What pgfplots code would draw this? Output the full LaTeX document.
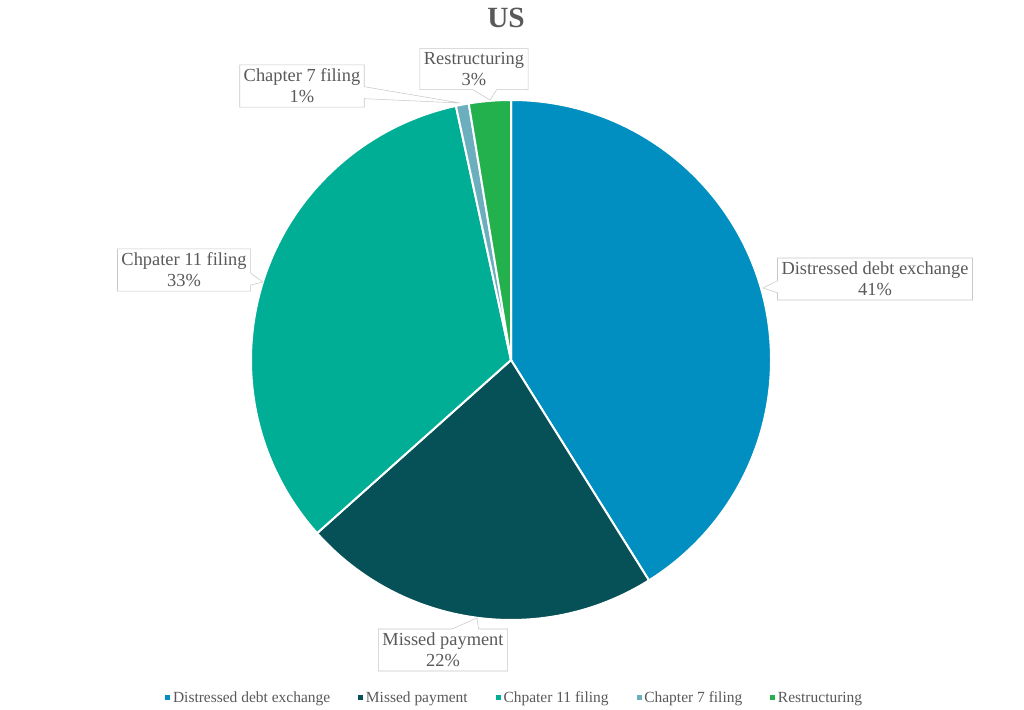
\documentclass[border=0pt]{standalone}
\usepackage{pgfplots}
\pgfplotsset{compat=1.18}
\usepackage{fontspec}
\setmainfont{Liberation Serif}
\usetikzlibrary{shapes.callouts}
\definecolor{cA}{HTML}{008FC0}
\definecolor{cB}{HTML}{065057}
\definecolor{cC}{HTML}{00AD95}
\definecolor{cD}{HTML}{6BAFBF}
\definecolor{cE}{HTML}{22B14C}
\definecolor{txt}{HTML}{595959}
\definecolor{brd}{HTML}{C8C8C8}
\begin{document}
\begin{tikzpicture}
\begin{axis}[
  width=768pt, height=532.5pt, scale only axis,
  xmin=0, xmax=1024, ymin=0, ymax=710,
  hide axis, clip=false,
  legend columns=5,
  legend style={draw=none, fill=none, at={(0.503,0.017)}, anchor=center,
    font=\fontsize{11.6}{14}\selectfont, text=txt,
    /tikz/every even column/.append style={column sep=19pt},
    /tikz/every odd column/.append style={column sep=0pt}},
  legend image code/.code={\fill[#1,draw=none] (-2.5pt,-1.9pt) rectangle (1.3pt,1.9pt);},
]
\addlegendimage{fill=cA,draw=none}\addlegendentry{Distressed debt exchange}
\addlegendimage{fill=cB,draw=none}\addlegendentry{Missed payment}
\addlegendimage{fill=cC,draw=none}\addlegendentry{Chpater 11 filing}
\addlegendimage{fill=cD,draw=none}\addlegendentry{Chapter 7 filing}
\addlegendimage{fill=cE,draw=none}\addlegendentry{Restructuring}
\gdef\cum{0}
\foreach \v/\c in {41.1/cA,22.3/cB,33.2/cC,0.8/cD,2.6/cE}{
  \pgfmathsetmacro\a{90-3.6*\cum}
  \pgfmathsetmacro\b{90-3.6*(\cum+\v)}
  \pgfmathsetmacro\sx{511+260*cos(\a)}
  \pgfmathsetmacro\sy{350+260*sin(\a)}
  \edef\temp{\noexpand\fill[\c,draw=white,line width=1.5pt] (axis cs:511,350) -- (axis cs:\sx,\sy) arc[start angle=\a,end angle=\b,radius=195pt] -- cycle;}
  \temp
  \pgfmathsetmacro\n{\cum+\v}\xdef\cum{\n}
}
\tikzset{lbl/.style={rectangle callout, draw=brd, fill=white, text=txt, align=center,
  font=\fontsize{13.8}{15.75}\selectfont, inner xsep=3pt, inner ysep=3pt, callout pointer width=9pt}}
\node[lbl, callout absolute pointer={(axis cs:763,422)}] at (axis cs:875,431) {Distressed debt exchange\\41\%};
\node[lbl, callout absolute pointer={(axis cs:477,92)}, callout pointer width=20pt] at (axis cs:443,60) {Missed payment\\22\%};
\node[lbl, callout absolute pointer={(axis cs:263,428)}] at (axis cs:184,440) {Chpater 11 filing\\33\%};
\node[lbl, callout absolute pointer={(axis cs:460,607)}] at (axis cs:302,624) {Chapter 7 filing\\1\%};
\node[lbl, callout absolute pointer={(axis cs:490,610)}, callout pointer width=18pt] at (axis cs:474,641) {Restructuring\\3\%};
\node[text=txt, font=\fontsize{22}{24}\selectfont\bfseries] at (axis cs:506,692) {US};
\end{axis}
\pgfresetboundingbox
\path (current axis.south west) rectangle (current axis.north east);
\end{tikzpicture}
\end{document}
